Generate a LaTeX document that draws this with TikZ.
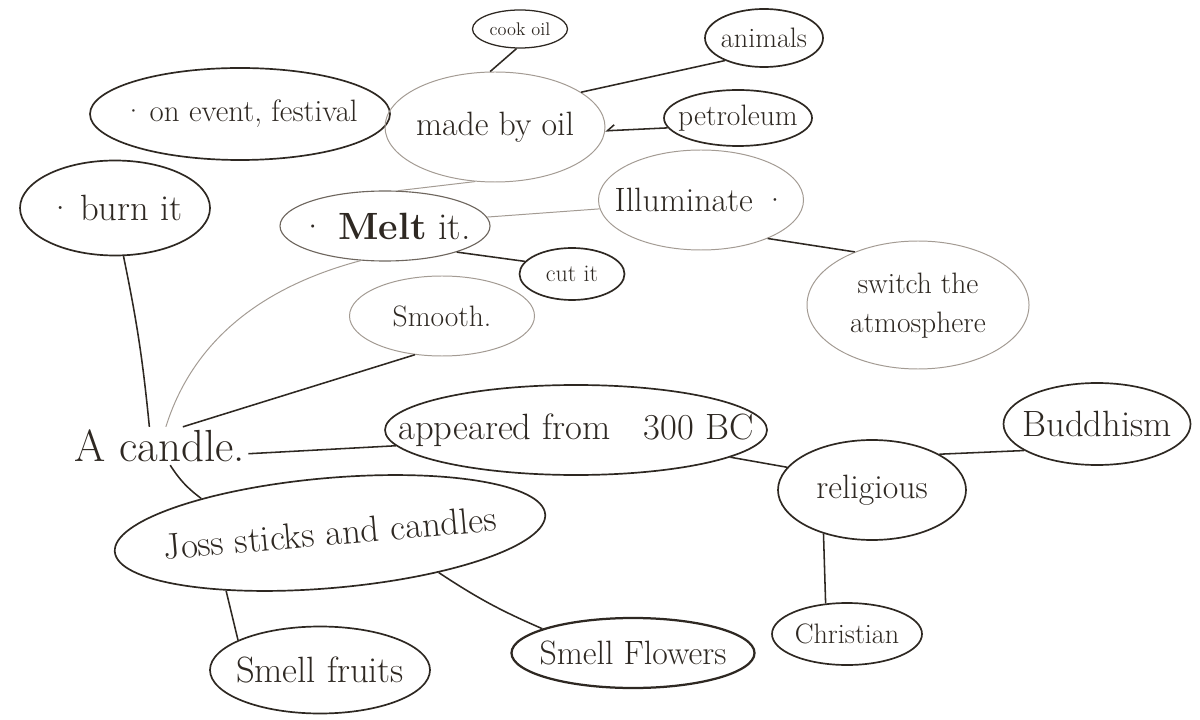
\documentclass[tikz,border=0pt]{standalone}
\usepackage{fontspec}
\usetikzlibrary{shapes.geometric,arrows.meta}
\definecolor{ink}{HTML}{2E2822}
\definecolor{faint}{HTML}{A39B93}
\definecolor{midink}{HTML}{6E665E}
\newcommand{\mmtxt}[1]{\makebox[0pt][c]{#1}}
\tikzset{
  el/.style 2 args={ellipse, draw=ink, line width=1.2pt, inner sep=0pt, text=ink,
    minimum width=#1*0.025cm, minimum height=#2*0.025cm},
  fel/.style={draw=faint, line width=0.7pt},
  fs/.style={font=\fontsize{#1}{#1}\selectfont},
  link/.style={draw=ink, line width=1.1pt},
  flink/.style={draw=faint, line width=0.7pt}}
\begin{document}
\begin{tikzpicture}[x=0.025cm,y=-0.025cm]
\useasboundingbox[fill=white] (0,0) rectangle (1200,720);

% nodes
\node[el={300}{92}, fs=22] (event) at (240,114) {\mmtxt{\textperiodcentered\,on event, festival}};
\node[el={220}{110}, fel, fs=24] (oil) at (495,127) {\mmtxt{made by oil}};
\node[el={95}{38}, line width=0.9pt, fs=13] (cook) at (520,29) {\mmtxt{cook oil}};
\node[el={118}{58}, fs=20] (animals) at (764,38) {\mmtxt{animals}};
\node[el={148}{56}, fs=21] (petro) at (738,118) {\mmtxt{petroleum}};
\node[el={190}{95}, fs=26] (burn) at (115,208) {\mmtxt{\textperiodcentered\,burn it}};
\node[el={210}{70}, draw=midink, line width=0.8pt, fs=27] (melt) at (385,226) {\mmtxt{\textperiodcentered\ \textbf{Melt} it.}};
\node[el={205}{100}, fel, fs=24] (illum) at (701,200) {\mmtxt{Illuminate\ \textperiodcentered}};
\node[el={105}{52}, fs=17] (cut) at (572,274) {\mmtxt{cut it}};
\node[el={185}{80}, fel, fs=21] (smooth) at (442,316) {\mmtxt{Smooth.}};
\node[el={222}{128}, fel, font=\fontsize{21}{28}\selectfont] (switch) at (918,305)
  {\mmtxt{\begin{tabular}{@{}c@{}}switch the\\atmosphere\end{tabular}}};
\node[text=ink, fs=32, inner sep=2pt] (candle) at (160,446) {A candle.};
\node[el={382}{90}, fs=26] (appeared) at (576,430) {\mmtxt{appeared from\ \ \ 300 BC}};
\node[el={188}{100}, fs=24] (relig) at (872,490) {\mmtxt{religious}};
\node[el={187}{82}, fs=26] (budd) at (1097,424) {\mmtxt{Buddhism}};
\node[el={150}{62}, fs=20] (christ) at (847,634) {\mmtxt{Christian}};
\node[el={432}{110}, fs=26, rotate=5] (joss) at (330,533) {\mmtxt{Joss sticks and candles}};
\node[el={220}{87}, fs=26] (fruits) at (320,670) {\mmtxt{Smell fruits}};
\node[el={243}{70}, line width=1.6pt, fs=24] (flowers) at (633,653) {\mmtxt{Smell Flowers}};

% connectors
\draw[link] (burn.-80) to[bend left=3] (candle.119);
\draw[flink] (melt.-125) .. controls (250,290) and (190,350) .. (candle.73);
\draw[link] (smooth.-125) -- (candle.40);
\draw[link] (candle.-5) -- (appeared.185);
\draw[link] (candle.-62) to[bend right=10] (joss.160);
\draw[link] (joss.-156) -- (fruits.160);
\draw[link] (joss.-25) to[bend right=5] (flowers.165);
\draw[link] (appeared.-10) -- (relig.165);
\draw[link] (relig.28) -- (budd.200);
\draw[link] (relig.-138) -- (christ.125);
\draw[link, -{Straight Barb[right,length=5pt,width=8pt]}] (petro.188) -- (oil.-2);
\draw[link] (oil.22) -- (animals.210);
\draw[link] (oil.95) -- (cook.-100);
\draw[flink] (oil.-110) -- (melt.70);
\draw[link] (melt.-20) -- (cut.165);
\draw[flink] (melt.5) -- (illum.185);
\draw[link] (illum.-30) -- (switch.140);
\end{tikzpicture}
\end{document}
